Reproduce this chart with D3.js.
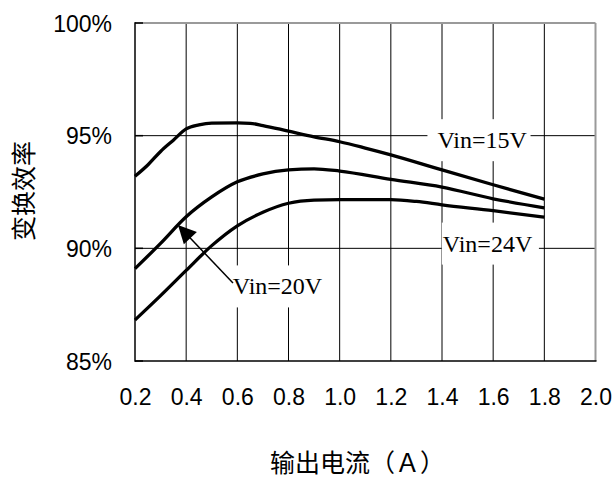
<!DOCTYPE html>
<html><head><meta charset="utf-8">
<script src="https://cdn.jsdelivr.net/npm/d3@7"></script>
<style>body{margin:0;background:#fff}svg{display:block}</style>
</head><body>
<svg id="c" width="615" height="482"></svg>
<script>
// ---- data ----
const xTicks = [0.2,0.4,0.6,0.8,1.0,1.2,1.4,1.6,1.8,2.0];
const yTicks = [85,90,95,100];
const seriesNames = ["Vin=15V","Vin=20V","Vin=24V"];
const vin15Current = [0.2,0.25,0.3,0.35,0.4,0.45,0.5,0.6,0.65,0.7,0.8,0.9,1.0,1.1,1.2,1.4,1.6,1.8];
const vin15Eff     = [93.2,93.7,94.3,94.8,95.3,95.48,95.56,95.57,95.55,95.45,95.2,94.95,94.73,94.45,94.15,93.48,92.82,92.18];
const vin20Current = [0.2,0.3,0.4,0.5,0.6,0.7,0.8,0.9,1.0,1.2,1.4,1.6,1.8];
const vin20Eff     = [89.1,90.22,91.4,92.28,92.95,93.3,93.48,93.53,93.43,93.06,92.72,92.2,91.8];
const vin24Current = [0.2,0.3,0.4,0.5,0.6,0.7,0.8,0.9,1.0,1.2,1.3,1.4,1.6,1.8];
const vin24Eff     = [86.82,87.9,89.02,90.12,91.0,91.6,92.0,92.14,92.16,92.16,92.08,91.93,91.67,91.38];

// ---- layout ----
const W = 615, H = 482;
const plot = {left:135, right:595.5, top:23, bottom:361};
const x = d3.scaleLinear().domain([0.2,2.0]).range([plot.left, plot.right]);
const y = d3.scaleLinear().domain([85,100]).range([plot.bottom, plot.top]);
const latin = "'Liberation Sans', Arial, Helvetica, sans-serif";
const cjk = "'Noto Sans CJK SC', sans-serif";
const serif = "'Liberation Serif', 'Times New Roman', serif";

const svg = d3.select("#c");
svg.append("rect").attr("width",W).attr("height",H).attr("fill","#fff");

// grid
const g = svg.append("g");
g.selectAll("line.vg").data(xTicks.filter(d=>d>0.2 && d<2.0)).join("line")
  .attr("x1",d=>x(d)).attr("x2",d=>x(d)).attr("y1",y(100)).attr("y2",y(85))
  .attr("stroke","#000").attr("stroke-width",1);
g.selectAll("line.hg").data(yTicks.filter(d=>d>85 && d<100)).join("line")
  .attr("x1",x(0.2)).attr("x2",x(2.0)).attr("y1",d=>y(d)).attr("y2",d=>y(d))
  .attr("stroke","#000").attr("stroke-width",1);

// frame: top & right grey
svg.append("line").attr("x1",x(0.2)).attr("x2",x(2.0)).attr("y1",y(100)).attr("y2",y(100))
  .attr("stroke","#9a9a9a").attr("stroke-width",2);
svg.append("line").attr("x1",x(2.0)).attr("x2",x(2.0)).attr("y1",y(100)).attr("y2",y(85))
  .attr("stroke","#9a9a9a").attr("stroke-width",2);
// inner ticks on y axis
svg.selectAll("line.yt").data(yTicks).join("line")
  .attr("x1",x(0.2)).attr("x2",x(0.2)+8).attr("y1",d=>y(d)).attr("y2",d=>y(d))
  .attr("stroke","#000").attr("stroke-width",1.5);
// left & bottom axes black
svg.append("line").attr("x1",x(0.2)).attr("x2",x(0.2)).attr("y1",y(100)-0.75).attr("y2",y(85)+0.75)
  .attr("stroke","#000").attr("stroke-width",1.5);
svg.append("line").attr("x1",x(0.2)).attr("x2",x(2.0)+1).attr("y1",y(85)).attr("y2",y(85))
  .attr("stroke","#000").attr("stroke-width",1.5);

// axis labels via d3 axes
const xAxis = d3.axisBottom(x).tickValues(xTicks).tickFormat(d3.format(".1f")).tickSize(0).tickPadding(28);
const xa = svg.append("g").attr("transform",`translate(0,${plot.bottom})`).call(xAxis);
xa.select(".domain").remove();
xa.selectAll("text").attr("font-family",latin).attr("font-size",23).attr("fill","#000");

const yAxis = d3.axisLeft(y).tickValues(yTicks).tickFormat(d=>d+"%").tickSize(0).tickPadding(23);
const ya = svg.append("g").attr("transform",`translate(${plot.left},0)`).call(yAxis);
ya.select(".domain").remove();
ya.selectAll("text").attr("font-family",latin).attr("font-size",23).attr("fill","#000").attr("dy","0.36em");

// axis titles
svg.append("text").attr("x",270).attr("y",472).attr("font-family",cjk).attr("font-size",25)
  .attr("fill","#000").text("输出电流（Ａ）");
svg.append("text").attr("transform","translate(21.5,191) rotate(-90)")
  .attr("text-anchor","middle").attr("dominant-baseline","central")
  .attr("font-family",cjk).attr("font-size",25).attr("fill","#000").text("变换效率");

// curves
const series = [
  {cur:vin15Current, eff:vin15Eff},
  {cur:vin20Current, eff:vin20Eff},
  {cur:vin24Current, eff:vin24Eff}
];
const line = d3.line().x(d=>x(d[0])).y(d=>y(d[1])).curve(d3.curveMonotoneX);
svg.selectAll("path.s").data(series).join("path")
  .attr("d",s=>line(s.cur.map((c,i)=>[c,s.eff[i]])))
  .attr("fill","none").attr("stroke","#000").attr("stroke-width",3.3)
  .attr("stroke-linejoin","round");

// labels with white boxes (position in data units, padding in px)
const labelPos = [
  {cx:1.557, cy:94.8, padL:10, padR:3},
  {cx:0.757, cy:88.31, padL:3, padR:3},
  {cx:1.578, cy:90.21, padL:1, padR:6}
];
seriesNames.forEach((name,i)=>{
  const p = labelPos[i];
  const t = svg.append("text").attr("x",x(p.cx)).attr("y",y(p.cy))
    .attr("text-anchor","middle").attr("dy","0.33em")
    .attr("font-family",serif).attr("font-size",24).attr("fill","#000").text(name);
  const b = t.node().getBBox();
  svg.insert("rect", function(){return t.node();})
    .attr("x",b.x-p.padL).attr("width",b.width+p.padL+p.padR)
    .attr("y",y(p.cy)-21).attr("height",42).attr("fill","#fff");
});

// arrow from Vin=20V label to its curve
const aFrom = [0.583, 88.46], aTo = [0.368, 91.03];
const x0 = x(aFrom[0]), y0 = y(aFrom[1]), x1 = x(aTo[0]), y1 = y(aTo[1]);
const len = Math.hypot(x1-x0, y1-y0), ux = (x1-x0)/len, uy = (y1-y0)/len;
const headL = 18, headW = 9;
const bx = x1-ux*headL, by = y1-uy*headL;
svg.append("line").attr("x1",x0).attr("y1",y0).attr("x2",bx+ux*2).attr("y2",by+uy*2)
  .attr("stroke","#000").attr("stroke-width",1.5);
svg.append("path")
  .attr("d",`M${x1},${y1}L${bx-uy*headW},${by+ux*headW}L${bx+uy*headW},${by-ux*headW}Z`)
  .attr("fill","#000");
</script>
</body></html>
